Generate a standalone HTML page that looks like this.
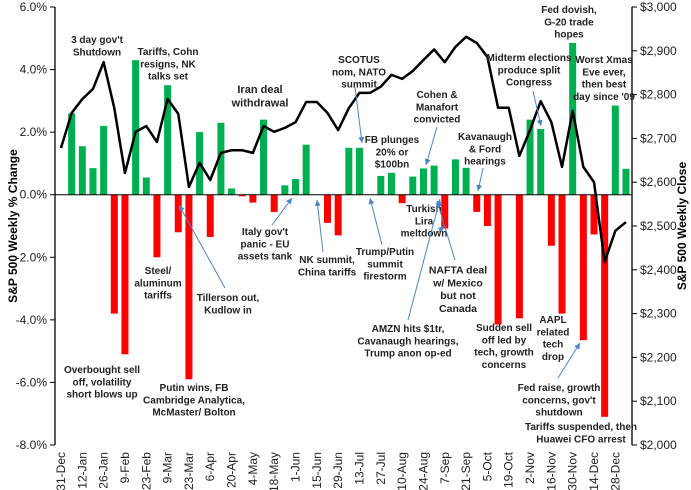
<!DOCTYPE html>
<html><head><meta charset="utf-8">
<style>
html,body{margin:0;padding:0;background:#fff;}
svg{display:block;font-family:"Liberation Sans",sans-serif;}
.ann{font-weight:bold;fill:#222;text-anchor:middle;}
.tick{font-size:12px;fill:#222;}
</style></head>
<body>
<svg id="chart" width="691" height="490" viewBox="0 0 691 490" xmlns="http://www.w3.org/2000/svg">
<defs><marker id="ah" markerWidth="8" markerHeight="8" refX="6" refY="3" orient="auto"><path d="M0,0 L6,3 L0,6 z" fill="#4a86c8"/></marker></defs>
<g id="grid"></g><g id="bars"></g><g id="axes"></g><g id="line"></g><g id="anns"></g>
</svg>
<script>
const categories = ["31-Dec","5-Jan","12-Jan","19-Jan","26-Jan","2-Feb","9-Feb","16-Feb","23-Feb","2-Mar","9-Mar","16-Mar","23-Mar","30-Mar","6-Apr","13-Apr","20-Apr","27-Apr","4-May","11-May","18-May","25-May","1-Jun","8-Jun","15-Jun","22-Jun","29-Jun","6-Jul","13-Jul","20-Jul","27-Jul","3-Aug","10-Aug","17-Aug","24-Aug","31-Aug","7-Sep","14-Sep","21-Sep","28-Sep","5-Oct","12-Oct","19-Oct","26-Oct","2-Nov","9-Nov","16-Nov","23-Nov","30-Nov","7-Dec","14-Dec","21-Dec","28-Dec","4-Jan"];
const weeklyChange = [0,2.6,1.55,0.85,2.2,-3.8,-5.1,4.3,0.55,-2.0,3.5,-1.2,-5.9,2.0,-1.35,2.3,0.2,-0.05,-0.25,2.4,-0.55,0.3,0.5,1.6,0,-0.9,-1.3,1.5,1.5,0,0.6,0.7,-0.27,0.58,0.84,0.93,-1.08,1.13,0.86,-0.55,-1.0,-4.15,0,-3.95,2.4,2.1,-1.63,-3.8,4.85,-4.65,-1.27,-7.1,2.85,0.83];
const weeklyClose = [2678,2758,2790,2813,2874,2769,2621,2715,2728,2692,2790,2756,2589,2644,2605,2667,2673,2673,2667,2728,2715,2724,2737,2783,2783,2758,2719,2769,2804,2804,2818,2845,2836,2854,2879,2903,2874,2909,2932,2918,2886,2770,2770,2660,2719,2785,2737,2635,2763,2635,2600,2418,2489,2509];
const leftTicks = [6,4,2,0,-2,-4,-6,-8];
const rightTicks = [3000,2900,2800,2700,2600,2500,2400,2300,2200,2100,2000];

const NS="http://www.w3.org/2000/svg";
const X0=61, XS=10.66, TOP=7, BOT=445, LX=55, RX=632;
const xPos=i=>X0+XS*i;
const yPct=v=>TOP+(6-v)*(BOT-TOP)/14;
const yClose=v=>TOP+(3000-v)*(BOT-TOP)/1000;
function mk(tag,attrs,parent,text){const e=document.createElementNS(NS,tag);for(const k in attrs)e.setAttribute(k,attrs[k]);if(text!==undefined)e.textContent=text;parent.appendChild(e);return e;}
const gB=document.getElementById('bars'),gA=document.getElementById('axes'),gL=document.getElementById('line'),gN=document.getElementById('anns');

weeklyChange.forEach((v,i)=>{
  const y0=yPct(0),y1=yPct(v);
  const r=mk('rect',{x:xPos(i)-3.5,y:Math.min(y0,y1),width:7,height:Math.abs(y1-y0),fill:v>=0?'#00b050':'#ff0000'},gB);
  
  
});
let a=mk('line',{x1:LX,y1:TOP,x2:LX,y2:BOT,stroke:'#000','stroke-width':1.3},gA);

a=mk('line',{x1:RX,y1:TOP,x2:RX,y2:BOT,stroke:'#000','stroke-width':1.3},gA);

a=mk('line',{x1:LX,y1:yPct(0),x2:RX,y2:yPct(0),stroke:'#000','stroke-width':1},gA);

leftTicks.forEach(t=>{
  mk('line',{x1:LX-5,y1:yPct(t),x2:LX,y2:yPct(t),stroke:'#000'},gA);
  const tx=mk('text',{x:47,y:yPct(t)+4,'text-anchor':'end',class:'tick'},gA,t.toFixed(1)+'%');
  
});
rightTicks.forEach(t=>{
  mk('line',{x1:RX,y1:yClose(t),x2:RX+5,y2:yClose(t),stroke:'#000'},gA);
  const tx=mk('text',{x:640,y:yClose(t)+4,'text-anchor':'start',class:'tick'},gA,'$'+t.toLocaleString('en-US'));
  
});
categories.forEach((c,i)=>{
  if(i%2) return;
  const x=xPos(i)+4;
  const tx=mk('text',{x:x,y:452,transform:`rotate(-90 ${x} 452)`,'text-anchor':'end',class:'tick','font-size':'11.5'},gA,c);
  
});
let t=mk('text',{x:17,y:226,transform:'rotate(-90 17 226)','text-anchor':'middle','font-size':'12','font-weight':'bold'},gA,'S&P 500 Weekly % Change');

t=mk('text',{x:686,y:226,transform:'rotate(-90 686 226)','text-anchor':'middle','font-size':'12','font-weight':'bold'},gA,'S&P 500 Weekly Close');

const pl=mk('polyline',{points:weeklyClose.map((v,i)=>xPos(i)+','+yClose(v)).join(' '),fill:'none',stroke:'#000','stroke-width':2.5,'stroke-linejoin':'round'},gL);


const anns=[
 [97,33,["3 day gov't","Shutdown"],10],
 [168,45,["Tariffs, Cohn","resigns, NK","talks set"],10],
 [260,82,["Iran deal","withdrawal"],11],
 [359,53,["SCOTUS","nom, NATO","summit"],10],
 [392,133,["FB plunges","20% or","$100bn"],10],
 [437,88,["Cohen &","Manafort","convicted"],10],
 [569,3,["Fed dovish,","G-20 trade","hopes"],10],
 [529,51,["Midterm elections","produce split","Congress"],10],
 [604,53,["Worst Xmas","Eve ever,","then best","day since '09"],10],
 [485,130,["Kavanaugh","& Ford","hearings"],10],
 [424,202,["Turkish","Lira","meltdown"],10],
 [265,225,["Italy gov't","panic - EU","assets tank"],10],
 [327,253,["NK summit,","China tariffs"],10],
 [385,245,["Trump/Putin","summit","firestorm"],10],
 [458,263,["NAFTA deal","w/ Mexico","but not","Canada"],10.5],
 [408,322,["AMZN hits $1tr,","Cavanaugh  hearings,","Trump anon op-ed"],10],
 [158,264,["Steel/","aluminum","tariffs"],10],
 [228,291,["Tillerson  out,","Kudlow in"],10],
 [102,363,["Overbought sell","off, volatility","short blows up"],10],
 [194,381,["Putin wins, FB","Cambridge Analytica,","McMaster/ Bolton"],10],
 [504,321,["Sudden sell","off led by","tech, growth","concerns"],10],
 [553,313,["AAPL","related","tech","drop"],10],
 [559,381,["Fed raise, growth","concerns, gov't","shutdown"],10],
 [581,420,["Tariffs suspended, then","Huawei CFO arrest"],10]
];
anns.forEach(([cx,ty,lines,fs])=>{
  const lh=fs+2.3;
  const tx=mk('text',{x:cx,y:ty+fs,class:'ann','font-size':fs},gN);
  
  
  lines.forEach((l,k)=>mk('tspan',{x:cx,dy:k?lh:0},tx,l));
});
const arrows=[[272,225,292,198],[323,252,317,200],[225,288,179,205],[355,87,362,143],[382,245,370,198],[408,320,440,199],[455,260,437,201],[437,127,426,165],[438,232,444,226],[483,168,478,191],[533,91,541,126],[558,378,580,343]];
arrows.forEach(([x1,y1,x2,y2])=>{
  const l=mk('line',{x1,y1,x2,y2,stroke:'#4a86c8','stroke-width':1,'marker-end':'url(#ah)'},gN);
  
  
});
</script>
</body></html>
